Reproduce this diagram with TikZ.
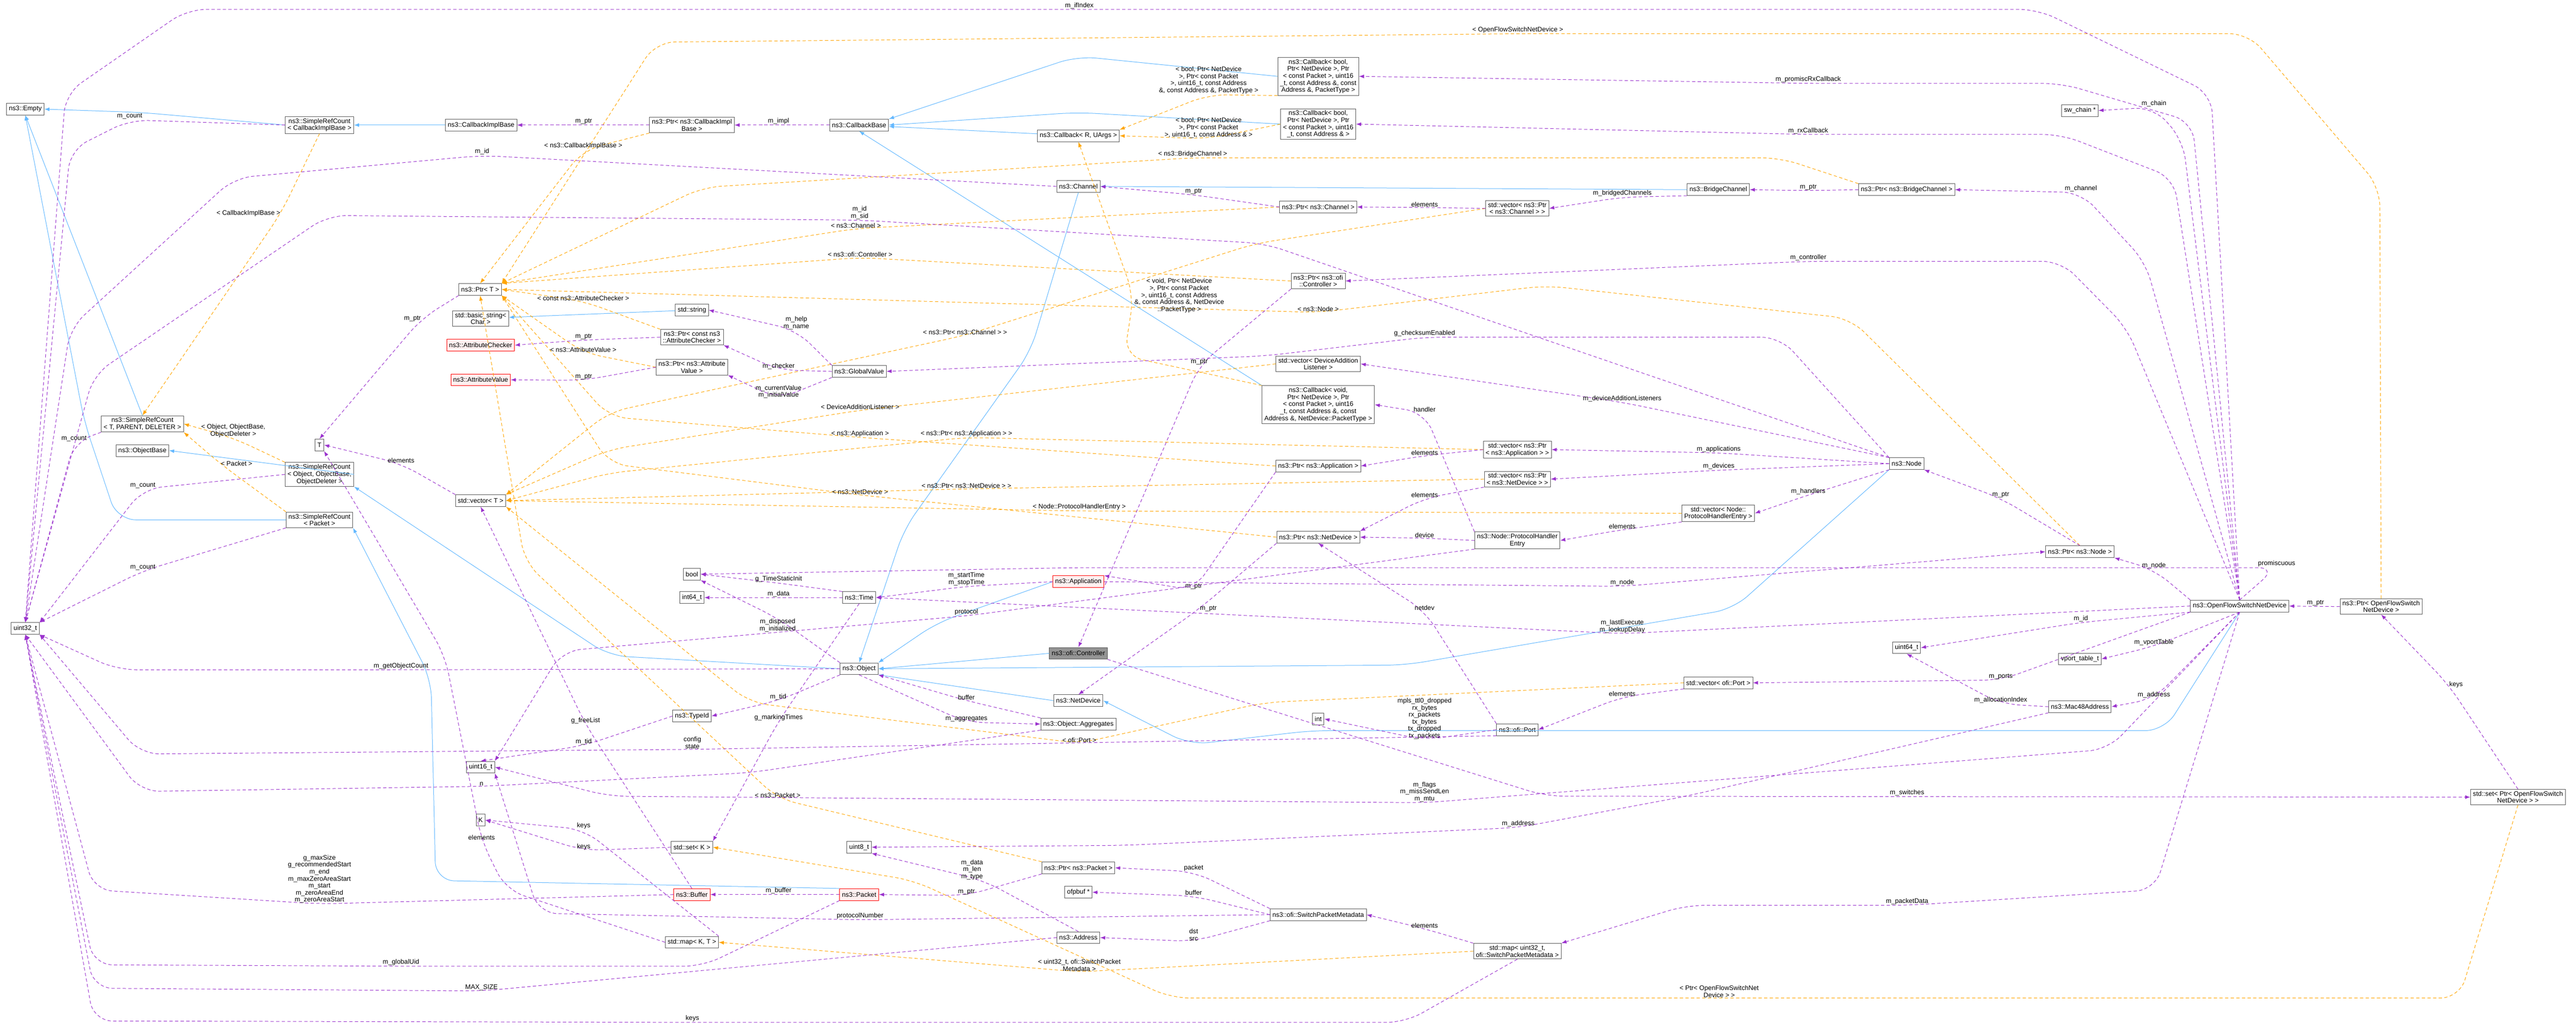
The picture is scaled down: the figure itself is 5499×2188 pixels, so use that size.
\documentclass[tikz,border=0pt]{standalone}
\usepackage{fontspec}
\setmainfont{Liberation Sans}
\usetikzlibrary{arrows,arrows.meta,positioning}

\definecolor{membercol}{HTML}{9A32CD}
\definecolor{tmplcol}{HTML}{FFA500}
\definecolor{inhcol}{HTML}{63B8FF}

\begin{document}
\begin{tikzpicture}[
    x=1pt, y=-1pt,
    cls/.style={rectangle, draw=black!65, fill=white, line width=1pt, align=center,
        font=\fontsize{14}{15}\selectfont, inner xsep=5pt, inner ysep=4pt, minimum height=25pt},
    redcls/.style={cls, draw=red, fill=red!6},
    curcls/.style={cls, fill=black!42},
    lbl/.style={font=\fontsize{14}{15}\selectfont, align=center, inner sep=1pt},
    member/.style={draw=membercol, line width=1.1pt, dash pattern=on 7pt off 5pt, rounded corners=40pt,
        -{Latex[length=11pt,width=8pt]}},
    tmpl/.style={draw=tmplcol, line width=1.1pt, dash pattern=on 7pt off 5pt, rounded corners=40pt,
        -{Latex[length=11pt,width=8pt]}},
    inherit/.style={draw=inhcol, line width=1.1pt, rounded corners=40pt,
        -{Latex[length=11pt,width=8pt]}}
]
\useasboundingbox (0,0) rectangle (5499,2188);

% Left column
\node[cls] (empty) at (54,233) {ns3::Empty};
\node[cls] (u32) at (54,1342) {uint32\_t};
\node[cls] (srcTPD) at (304,905) {ns3::SimpleRefCount\\< T, PARENT, DELETER >};
\node[cls] (objbase) at (304,962) {ns3::ObjectBase};
\node[cls] (srcCIB) at (682,267) {ns3::SimpleRefCount\\< CallbackImplBase >};
\node[cls] (tT) at (682,950) {T};
\node[cls] (srcObj) at (682,1013) {ns3::SimpleRefCount\\< Object, ObjectBase,\\ObjectDeleter >};
\node[cls] (srcPkt) at (682,1110) {ns3::SimpleRefCount\\< Packet >};
\node[cls] (cib) at (1027,267) {ns3::CallbackImplBase};
\node[cls] (ptrT) at (1025,618) {ns3::Ptr< T >};
\node[cls] (bstr) at (1026,680) {std::basic\_string<\\Char >};
\node[redcls] (achk) at (1026,737) {ns3::AttributeChecker};
\node[redcls] (aval) at (1026,811) {ns3::AttributeValue};
\node[cls] (vecT) at (1026,1069) {std::vector< T >};
\node[cls] (u16) at (1026,1638) {uint16\_t};
\node[cls] (kK) at (1026,1751) {K};

% Middle columns
\node[cls] (ptrCIB) at (1477,267) {ns3::Ptr< ns3::CallbackImpl\\Base >};
\node[cls] (str) at (1477,662) {std::string};
\node[cls] (ptrAC) at (1477,720) {ns3::Ptr< const ns3\\::AttributeChecker >};
\node[cls] (ptrAV) at (1477,784) {ns3::Ptr< ns3::Attribute\\Value >};
\node[cls] (bool) at (1477,1226) {bool};
\node[cls] (i64) at (1477,1276) {int64\_t};
\node[cls] (typeid) at (1477,1529) {ns3::TypeId};
\node[cls] (setK) at (1477,1809) {std::set< K >};
\node[redcls] (buffer) at (1477,1910) {ns3::Buffer};
\node[cls] (mapKT) at (1477,2012) {std::map< K, T >};
\node[cls] (cbBase) at (1834,267) {ns3::CallbackBase};
\node[cls] (gval) at (1834,793) {ns3::GlobalValue};
\node[cls] (time) at (1834,1276) {ns3::Time};
\node[cls] (object) at (1834,1428) {ns3::Object};
\node[cls] (u8) at (1834,1809) {uint8\_t};
\node[redcls] (packet) at (1834,1910) {ns3::Packet};
\node[cls] (cbRU) at (2302,290) {ns3::Callback< R, UArgs >};
\node[cls] (chan) at (2302,398) {ns3::Channel};
\node[redcls] (app) at (2302,1242) {ns3::Application};
\node[curcls] (ctrl) at (2302,1395) {ns3::ofi::Controller};
\node[cls] (netdev) at (2302,1496) {ns3::NetDevice};
\node[cls] (aggr) at (2302,1546) {ns3::Object::Aggregates};
\node[cls] (ptrPkt) at (2302,1853) {ns3::Ptr< ns3::Packet >};
\node[cls] (ofpbuf) at (2302,1905) {ofpbuf *};
\node[cls] (address) at (2302,2002) {ns3::Address};

% Right columns
\node[cls] (cbPT) at (2814,163) {ns3::Callback< bool,\\ Ptr< NetDevice >, Ptr\\< const Packet >, uint16\\\_t, const Address \&, const\\ Address \&, PacketType >};
\node[cls] (cbAddr) at (2814,265) {ns3::Callback< bool,\\ Ptr< NetDevice >, Ptr\\< const Packet >, uint16\\\_t, const Address \& >};
\node[cls] (ptrChan) at (2814,442) {ns3::Ptr< ns3::Channel >};
\node[cls] (ptrCtrl) at (2814,600) {ns3::Ptr< ns3::ofi\\::Controller >};
\node[cls] (vecDAL) at (2814,777) {std::vector< DeviceAddition\\Listener >};
\node[cls] (cbVoid) at (2814,864) {ns3::Callback< void,\\ Ptr< NetDevice >, Ptr\\< const Packet >, uint16\\\_t, const Address \&, const\\ Address \&, NetDevice::PacketType >};
\node[cls] (ptrApp) at (2814,995) {ns3::Ptr< ns3::Application >};
\node[cls] (ptrND) at (2814,1147) {ns3::Ptr< ns3::NetDevice >};
\node[cls] (intN) at (2814,1535) {int};
\node[cls] (spm) at (2814,1953) {ns3::ofi::SwitchPacketMetadata};
\node[cls] (vecChan) at (3239,445) {std::vector< ns3::Ptr\\< ns3::Channel > >};
\node[cls] (vecApp) at (3239,960) {std::vector< ns3::Ptr\\< ns3::Application > >};
\node[cls] (vecND) at (3239,1023) {std::vector< ns3::Ptr\\< ns3::NetDevice > >};
\node[cls] (phe) at (3239,1154) {ns3::Node::ProtocolHandler\\Entry};
\node[cls] (port) at (3239,1558) {ns3::ofi::Port};
\node[cls] (mapSPM) at (3239,2031) {std::map< uint32\_t,\\ ofi::SwitchPacketMetadata >};
\node[cls] (bridge) at (3668,405) {ns3::BridgeChannel};
\node[cls] (vecPHE) at (3668,1096) {std::vector< Node::\\ProtocolHandlerEntry >};
\node[cls] (vecPort) at (3668,1458) {std::vector< ofi::Port >};
\node[cls] (ptrBridge) at (4070,405) {ns3::Ptr< ns3::BridgeChannel >};
\node[cls] (node) at (4070,990) {ns3::Node};
\node[cls] (u64) at (4070,1383) {uint64\_t};
\node[cls] (swchain) at (4440,236) {sw\_chain *};
\node[cls] (ptrNode) at (4440,1178) {ns3::Ptr< ns3::Node >};
\node[cls] (vport) at (4440,1407) {vport\_table\_t};
\node[cls] (mac) at (4440,1509) {ns3::Mac48Address};
\node[cls] (ofsnd) at (4781,1294) {ns3::OpenFlowSwitchNetDevice};
\node[cls] (ptrOFS) at (5083,1295) {ns3::Ptr< OpenFlowSwitch\\NetDevice >};
\node[cls] (setOFS) at (5375,1702) {std::set< Ptr< OpenFlowSwitch\\NetDevice > >};

% Inheritance
\draw[inherit] (srcCIB.west) -- (300,240) -- (empty.east);
\draw[inherit] (cib) -- (srcCIB);
\draw[inherit] (srcTPD.north) -- (empty.south);
\draw[inherit] (srcPkt.west) -- (250,1110) -- (180,900) -- (empty.south);
\draw[inherit] (srcObj.east) -- (objbase.east);
\draw[inherit] (object.west) -- (1300,1400) -- (srcObj.south east);
\draw[inherit] (packet.north west) -- (930,1880) -- (920,1450) -- (srcPkt.south east);
\draw[inherit] (str) -- (bstr);
\draw[inherit] (cbRU) -- (cbBase);
\draw[inherit] (cbPT.west) -- (2300,120) -- (cbBase.north east);
\draw[inherit] (cbAddr.west) -- (2300,240) -- (cbBase.east);
\draw[inherit] (cbVoid.north west) -- (cbBase.south);
\draw[inherit] (chan.south) -- (2200,750) -- (1930,1130) -- (object.north);
\draw[inherit] (bridge.west) -- (chan.east);
\draw[inherit] (app.west) -- (2000,1330) -- (object.north east);
\draw[inherit] (ctrl.west) -- (object.east);
\draw[inherit] (node.south west) -- (3700,1300) -- (3000,1420) -- (object.east);
\draw[inherit] (netdev.west) -- (object.south east);
\draw[inherit] (ofsnd.south) -- (4620,1560) -- (2800,1560) -- (2540,1590) -- (netdev.east);

% Templates
\draw[tmpl] (srcCIB.south) -- (600,455) node[lbl,left]{< CallbackImplBase >} -- (srcTPD.north);
\draw[tmpl] (srcObj.north west) -- (498,935) node[lbl,above]{< Object, ObjectBase,\\ObjectDeleter >} -- (srcTPD.east);
\draw[tmpl] (srcPkt.north west) -- (470,990) node[lbl,right]{< Packet >} -- (srcTPD.south east);
\draw[tmpl] (ptrCIB.south west) -- (1245,320) node[lbl,above]{< ns3::CallbackImplBase >} -- (ptrT.north);
\draw[tmpl] (ptrAC.north west) -- (1245,643) node[lbl,above]{< const ns3::AttributeChecker >} -- (ptrT.east);
\draw[tmpl] (ptrAV.west) -- (1245,753) node[lbl,above]{< ns3::AttributeValue >} -- (ptrT.south east);
\draw[tmpl] (ptrChan.west) -- (1827,488) node[lbl,above]{< ns3::Channel >} -- (ptrT.north east);
\draw[tmpl] (ptrCtrl.west) -- (1836,550) node[lbl,above]{< ns3::ofi::Controller >} -- (ptrT.north east);
\draw[tmpl] (ptrBridge.north west) -- (3800,337) -- (2546,337) node[lbl,above]{< ns3::BridgeChannel >} -- (1500,400) -- (ptrT.north east);
\draw[tmpl] (ptrNode.north) -- (3950,680) -- (3300,610) -- (2814,667) node[lbl,above]{< ns3::Node >} -- (ptrT.east);
\draw[tmpl] (ptrApp.west) -- (1836,934) node[lbl,above]{< ns3::Application >} -- (1300,890) -- (ptrT.south east);
\draw[tmpl] (ptrND.west) -- (1836,1057) node[lbl,above]{< ns3::NetDevice >} -- (1300,990) -- (ptrT.south east);
\draw[tmpl] (ptrPkt.north west) -- (1660,1705) node[lbl,above]{< ns3::Packet >} -- (1120,1200) -- (ptrT.south);
\draw[tmpl] (ptrOFS.north) -- (5080,400) -- (4800,72) -- (3240,72) node[lbl,above]{< OpenFlowSwitchNetDevice >} -- (1400,90) -- (ptrT.north east);
\draw[tmpl] (cbPT.south west) -- (2580,202) node[lbl,above]{< bool, Ptr< NetDevice\\>, Ptr< const Packet\\>, uint16\_t, const Address\\\&, const Address \&, PacketType >} -- (cbRU.north east);
\draw[tmpl] (cbAddr.west) -- (2580,296) node[lbl,above]{< bool, Ptr< NetDevice\\>, Ptr< const Packet\\>, uint16\_t, const Address \& >} -- (cbRU.east);
\draw[tmpl] (cbVoid.north west) -- (2400,760) -- (2420,631) node[lbl,right]{< void, Ptr< NetDevice\\>, Ptr< const Packet\\>, uint16\_t, const Address\\\&, const Address \&, NetDevice\\::PacketType >} -- (cbRU.south);
\draw[tmpl] (vecChan.west) -- (2680,520) -- (2060,716) node[lbl,above]{< ns3::Ptr< ns3::Channel > >} -- (1300,880) -- (vecT.north east);
\draw[tmpl] (vecDAL.west) -- (1836,876) node[lbl,above]{< DeviceAdditionListener >} -- (1300,960) -- (vecT.north east);
\draw[tmpl] (vecApp.west) -- (2063,934) node[lbl,above]{< ns3::Ptr< ns3::Application > >} -- (1300,1010) -- (vecT.east);
\draw[tmpl] (vecND.west) -- (2063,1044) node[lbl,above]{< ns3::Ptr< ns3::NetDevice > >} -- (vecT.east);
\draw[tmpl] (vecPHE.west) -- (2304,1091) node[lbl,above]{< Node::ProtocolHandlerEntry >} -- (vecT.east);
\draw[tmpl] (vecPort.west) -- (2700,1500) -- (2304,1587) node[lbl,above]{< ofi::Port >} -- (1600,1500) -- (vecT.south east);
\draw[tmpl] (mapSPM.west) -- (2304,2075) node[lbl,above]{< uint32\_t, ofi::SwitchPacket\\Metadata >} -- (mapKT.east);
\draw[tmpl] (setOFS.south) -- (5250,2131) -- (3670,2131) node[lbl,above]{< Ptr< OpenFlowSwitchNet\\Device > >} -- (2500,2131) -- (1950,1880) -- (setK.east);

% Members
\draw[member] (ofsnd.north) -- (4720,200) -- (4350,20) -- (2304,20) node[lbl,above]{m\_ifIndex} -- (400,20) -- (140,200) -- (u32.north);
\draw[member] (ofsnd.north) -- (4680,260) -- (4400,178) -- (3860,178) node[lbl,above]{m\_promiscRxCallback} -- (cbPT.east);
\draw[member] (ofsnd.north) -- (4640,380) -- (4400,287) -- (3860,287) node[lbl,above]{m\_rxCallback} -- (cbAddr.east);
\draw[member] (ofsnd.north) -- (4660,300) -- (4598,229) node[lbl,above]{m\_chain} -- (swchain.east);
\draw[member] (ofsnd.north) -- (4580,560) -- (4442,411) node[lbl,above]{m\_channel} -- (ptrBridge.east);
\draw[member] (ofsnd.north) -- (4540,700) -- (4400,558) -- (3860,558) node[lbl,above]{m\_controller} -- (ptrCtrl.east);
\draw[member] (ptrBridge.west) -- (3860,407) node[lbl,above]{m\_ptr} -- (bridge.east);
\draw[member] (bridge.south west) -- (3463,421) node[lbl,above]{m\_bridgedChannels} -- (vecChan.east);
\draw[member] (vecChan.west) -- (3041,443) node[lbl,above]{elements} -- (ptrChan.east);
\draw[member] (ptrChan.west) -- (2548,416) node[lbl,above]{m\_ptr} -- (chan.east);
\draw[member] (chan.west) -- (1029,332) node[lbl,above]{m\_id} -- (500,380) -- (150,700) -- (u32.north);
\draw[member] (node.north west) -- (2700,520) -- (1835,470) node[lbl,above]{m\_id\\m\_sid} -- (700,460) -- (200,800) -- (u32.north);
\draw[member] (ptrCtrl.south west) -- (2560,780) node[lbl,above]{m\_ptr} -- (ctrl.north);
\draw[member] (node.north west) -- (3800,720) -- (3041,720) node[lbl,above]{g\_checksumEnabled} -- (2700,760) -- (gval.east);
\draw[member] (gval.north west) -- (1700,705) node[lbl,above]{m\_help\\m\_name} -- (str.east);
\draw[member] (gval.west) -- (1662,790) node[lbl,above]{m\_checker} -- (ptrAC.south east);
\draw[member] (gval.south west) -- (1662,852) node[lbl,above]{m\_currentValue\\m\_initialValue} -- (ptrAV.south east);
\draw[member] (ptrAC.west) -- (1246,726) node[lbl,above]{m\_ptr} -- (achk.east);
\draw[member] (ptrAV.west) -- (1246,812) node[lbl,above]{m\_ptr} -- (aval.east);
\draw[member] (cbBase.west) -- (1662,267) node[lbl,above]{m\_impl} -- (ptrCIB.east);
\draw[member] (ptrCIB.west) -- (1246,267) node[lbl,above]{m\_ptr} -- (cib.east);
\draw[member] (ptrT.south west) -- (900,680) node[lbl,left]{m\_ptr} -- (tT.north);
\draw[member] (vecT.north west) -- (856,990) node[lbl,above]{elements} -- (tT.east);
\draw[member] (srcCIB.west) -- (277,256) node[lbl,above]{m\_count} -- (150,320) -- (u32.north);
\draw[member] (srcTPD.south west) -- (158,944) node[lbl,above]{m\_count} -- (u32.north);
\draw[member] (srcObj.west) -- (305,1044) node[lbl,above]{m\_count} -- (u32.north east);
\draw[member] (srcPkt.south west) -- (305,1219) node[lbl,above]{m\_count} -- (u32.north east);
\draw[member] (object.west) -- (856,1430) node[lbl,above]{m\_getObjectCount} -- (250,1430) -- (u32.south east);
\draw[member] (object.south west) -- (1661,1496) node[lbl,above]{m\_tid} -- (typeid.east);
\draw[member] (typeid.west) -- (1246,1592) node[lbl,above]{m\_tid} -- (u16.north);
\draw[member] (aggr.south west) -- (1600,1650) -- (1028,1679) node[lbl,above]{n} -- (300,1690) -- (u32.south);
\draw[member] (aggr.north west) -- (2063,1496) node[lbl,above]{buffer} -- (object.south east);
\draw[member] (object.south) -- (2063,1542) node[lbl,above]{m\_aggregates} -- (aggr.west);
\draw[member] (object.north west) -- (1660,1320) node[lbl,below]{m\_disposed\\m\_initialized} -- (bool.south east);
\draw[member] (time.north west) -- (1662,1245) node[lbl,above]{g\_TimeStaticInit} -- (bool.east);
\draw[member] (time.west) -- (1662,1276) node[lbl,above]{m\_data} -- (i64.east);
\draw[member] (time.south) -- (1662,1540) node[lbl,above]{g\_markingTimes} -- (setK.north east);
\draw[member] (app.west) -- (2063,1252) node[lbl,above]{m\_startTime\\m\_stopTime} -- (time.east);
\draw[member] (app.east) -- (3463,1252) node[lbl,above]{m\_node} -- (ptrNode.west);
\draw[member] (ptrApp.south west) -- (2548,1260) node[lbl,above]{m\_ptr} -- (app.north east);
\draw[member] (vecApp.west) -- (3041,973) node[lbl,above]{elements} -- (ptrApp.east);
\draw[member] (vecND.south west) -- (3041,1064) node[lbl,above]{elements} -- (ptrND.north east);
\draw[member] (node.west) -- (3669,967) node[lbl,above]{m\_applications} -- (vecApp.east);
\draw[member] (node.west) -- (3669,1004) node[lbl,above]{m\_devices} -- (vecND.east);
\draw[member] (node.north west) -- (3463,859) node[lbl,above]{m\_deviceAdditionListeners} -- (vecDAL.east);
\draw[member] (node.south west) -- (3860,1057) node[lbl,above]{m\_handlers} -- (vecPHE.east);
\draw[member] (vecPHE.south west) -- (3463,1131) node[lbl,above]{elements} -- (phe.east);
\draw[member] (phe.north west) -- (3041,881) node[lbl,above]{handler} -- (cbVoid.east);
\draw[member] (phe.west) -- (3041,1149) node[lbl,above]{device} -- (ptrND.east);
\draw[member] (phe.south west) -- (2063,1315) node[lbl,above]{protocol} -- (1200,1390) -- (u16.north east);
\draw[member] (ptrND.south west) -- (2560,1300) node[lbl,right]{m\_ptr} -- (netdev.north);
\draw[member] (port.north west) -- (3041,1304) node[lbl,above]{netdev} -- (ptrND.south);
\draw[member] (port.west) -- (3041,1580) node[lbl,above]{mpls\_ttl0\_dropped\\rx\_bytes\\rx\_packets\\tx\_bytes\\tx\_dropped\\tx\_packets} -- (intN.east);
\draw[member] (port.south west) -- (1478,1600) node[lbl,above]{config\\state} -- (300,1610) -- (u32.south east);
\draw[member] (vecPort.south west) -- (3463,1488) node[lbl,above]{elements} -- (port.east);
\draw[member] (ofsnd.south west) -- (4271,1452) node[lbl,above]{m\_ports} -- (vecPort.east);
\draw[member] (ofsnd.north west) -- (4598,1216) node[lbl,above]{m\_node} -- (ptrNode.south east);
\draw[member] (ptrNode.north) -- (4271,1064) node[lbl,above]{m\_ptr} -- (node.south east);
\draw[member] (ofsnd.west) -- (3463,1353) node[lbl,above]{m\_lastExecute\\m\_lookupDelay} -- (time.east);
\draw[member] (ofsnd.south west) -- (4442,1329) node[lbl,above]{m\_id} -- (u64.east);
\draw[member] (ofsnd.south) -- (4598,1380) node[lbl,above]{m\_vportTable} -- (vport.east);
\draw[member] (ofsnd.south) -- (4598,1492) node[lbl,above]{m\_address} -- (mac.east);
\draw[member] (mac.west) -- (4271,1503) node[lbl,above]{m\_allocationIndex} -- (u64.south);
\draw[member] (ofsnd.south) -- (4500,1600) -- (3041,1714) node[lbl,above]{m\_flags\\m\_missSendLen\\m\_mtu} -- (1300,1700) -- (u16.east);
\draw[member] (mac.south west) -- (3600,1700) -- (3241,1767) node[lbl,above]{m\_address} -- (2400,1805) -- (u8.east);
\draw[member] (ofsnd.north) -- (4860,1212) node[lbl,above]{promiscuous} -- (2304,1212) -- (bool.east);
\draw[member] (ctrl.south east) -- (3300,1700) -- (4071,1701) node[lbl,above]{m\_switches} -- (setOFS.west);
\draw[member] (setOFS.north) -- (5227,1462) node[lbl,right]{keys} -- (ptrOFS.south);
\draw[member] (ptrOFS.west) -- (4943,1295) node[lbl,above]{m\_ptr} -- (ofsnd.east);
\draw[member] (ofsnd.south) -- (4600,1900) -- (4071,1933) node[lbl,above]{m\_packetData} -- (3600,1933) -- (mapSPM.north east);
\draw[member] (mapSPM.north west) -- (3041,1983) node[lbl,above]{elements} -- (spm.east);
\draw[member] (mapSPM.south) -- (3000,2183) -- (1478,2183) node[lbl,above]{keys} -- (200,2180) -- (u32.south);
\draw[member] (spm.north west) -- (2548,1861) node[lbl,above]{packet} -- (ptrPkt.east);
\draw[member] (spm.west) -- (2548,1913) node[lbl,above]{buffer} -- (ofpbuf.east);
\draw[member] (spm.south west) -- (2548,2010) node[lbl,above]{dst\\src} -- (address.east);
\draw[member] (spm.west) -- (1836,1964) node[lbl,above]{protocolNumber} -- (1150,1950) -- (u16.south east);
\draw[member] (address.north) -- (2100,1880) node[lbl,above left]{m\_data\\m\_len\\m\_type} -- (u8.south east);
\draw[member] (address.west) -- (1028,2116) node[lbl,above]{MAX\_SIZE} -- (200,2110) -- (u32.south);
\draw[member] (ptrPkt.south west) -- (2063,1912) node[lbl,above]{m\_ptr} -- (packet.east);
\draw[member] (packet.west) -- (1662,1910) node[lbl,above]{m\_buffer} -- (buffer.east);
\draw[member] (packet.south west) -- (1500,2063) -- (856,2063) node[lbl,above]{m\_globalUid} -- (200,2060) -- (u32.south);
\draw[member] (buffer.west) -- (682,1930) node[lbl,above]{g\_maxSize\\g\_recommendedStart\\m\_end\\m\_maxZeroAreaStart\\m\_start\\m\_zeroAreaEnd\\m\_zeroAreaStart} -- (200,1900) -- (u32.south);
\draw[member] (buffer.north) -- (1250,1547) node[lbl,above]{g\_freeList} -- (vecT.south);
\draw[member] (mapKT.north east) -- (1246,1771) node[lbl,above]{keys} -- (kK.east);
\draw[member] (setK.west) -- (1246,1816) node[lbl,above]{keys} -- (kK.east);
\draw[member] (mapKT.west) -- (1080,1900) -- (1028,1795) node[lbl,above]{elements} -- (950,1400) -- (tT.south east);

\end{tikzpicture}
\end{document}
